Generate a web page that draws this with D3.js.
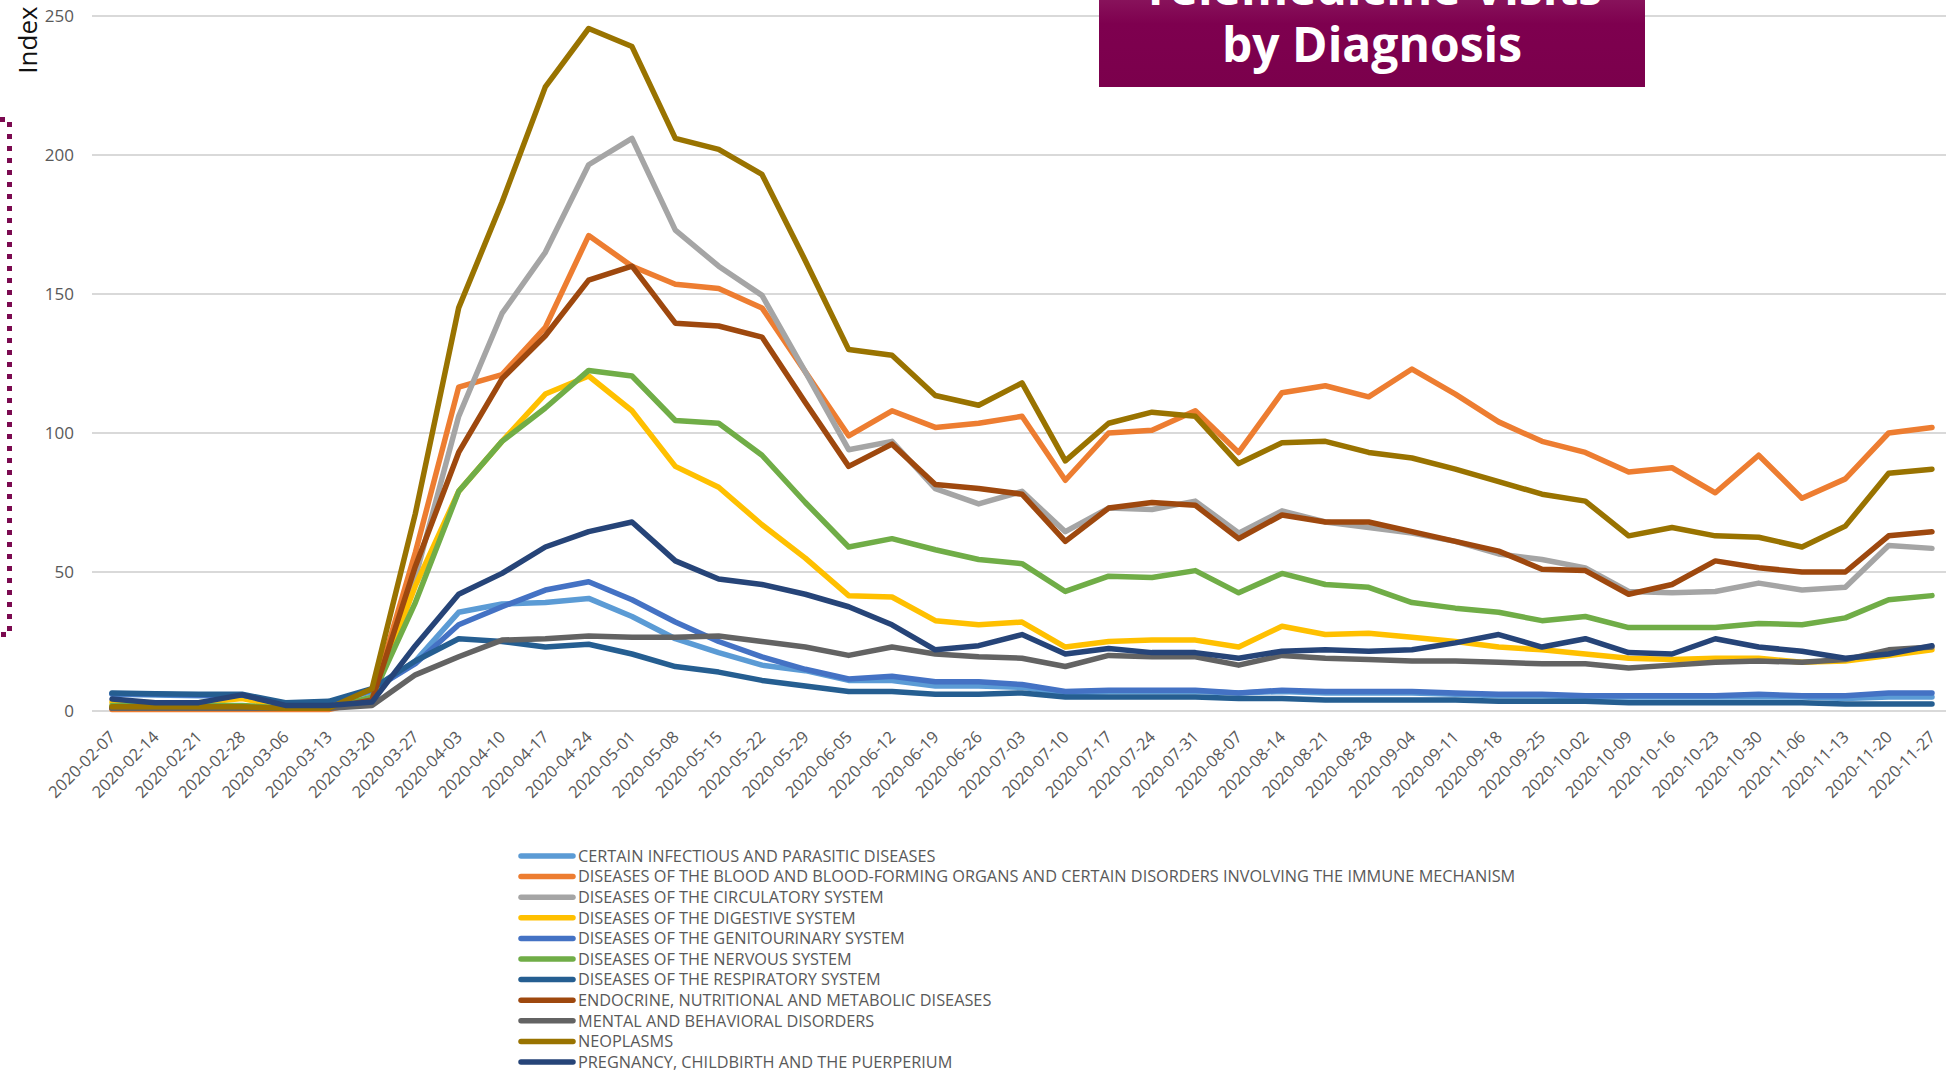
<!DOCTYPE html>
<html>
<head>
<meta charset="utf-8">
<script src="https://cdn.jsdelivr.net/npm/d3@7"></script>
<style>
  body { margin: 0; background: #fff; overflow: hidden; }
  svg { display: block; font-family: "Open Sans", sans-serif; }
</style>
</head>
<body>
<script>
var weeks = ["2020-02-07","2020-02-14","2020-02-21","2020-02-28","2020-03-06","2020-03-13","2020-03-20","2020-03-27",
  "2020-04-03","2020-04-10","2020-04-17","2020-04-24","2020-05-01","2020-05-08","2020-05-15","2020-05-22","2020-05-29",
  "2020-06-05","2020-06-12","2020-06-19","2020-06-26","2020-07-03","2020-07-10","2020-07-17","2020-07-24","2020-07-31",
  "2020-08-07","2020-08-14","2020-08-21","2020-08-28","2020-09-04","2020-09-11","2020-09-18","2020-09-25","2020-10-02",
  "2020-10-09","2020-10-16","2020-10-23","2020-10-30","2020-11-06","2020-11-13","2020-11-20","2020-11-27"];

var yTicks = [0, 50, 100, 150, 200, 250];

var infectious = [6,5.8,5.5,5.5,2.5,3,7,18,35.5,38.5,39,40.5,34,26,21,16.5,14.5,11,11,9,9,8.5,6.5,
  7,7,7,6.5,7,6.5,6.5,6.5,6,5.5,5.5,5,5,5,5,5,5,4.5,5,5];
var blood = [0.5,0.5,0.5,0.5,0.5,0.5,4,57,116.5,121,138,171,160,153.5,152,145,122,99,108,102,103.5,106,83,
  100,101,108,93,114.5,117,113,123,114,104,97,93,86,87.5,78.5,92,76.5,83.5,100,102];
var circulatory = [1,1,1,1,1,1,5,48,106,143,165,196.5,206,173,160,149.5,122,94,97,80,74.5,79,64.5,
  73,72.5,75.5,64,72,68,66,64,61,56.5,54.5,51.5,43,42.5,43,46,43.5,44.5,59.5,58.5];
var digestive = [3.2,3,3,4.5,1.5,1.5,4,45,79,97,114,120.5,108,88,80.5,67,55,41.5,41,32.5,31,32,23,
  25,25.5,25.5,23,30.5,27.5,28,26.5,25,23,22,20.5,19,18.5,19,19,17.5,18,20,22];
var genitourinary = [6.2,6,5.7,5.7,2.5,3,7.5,17,31,37.5,43.5,46.5,40,32,25,19.5,15,11.5,12.5,10.5,10.5,9.5,7,
  7.5,7.5,7.5,6.5,7.5,7,7,7,6.5,6,6,5.5,5.5,5.5,5.5,6,5.5,5.5,6.5,6.5];
var nervous = [2,2,2,2,1,1,5,39,79,97,109,122.5,120.5,104.5,103.5,92,75,59,62,58,54.5,53,43,
  48.5,48,50.5,42.5,49.5,45.5,44.5,39,37,35.5,32.5,34,30,30,30,31.5,31,33.5,40,41.5];
var respiratory = [6.5,6.2,6,6,3,3.5,8,18,26,25,23,24,20.5,16,14,11,9,7,7,6,6,6.5,5,
  5,5,5,4.5,4.5,4,4,4,4,3.5,3.5,3.5,3,3,3,3,3,2.5,2.5,2.5];
var endocrine = [1,1,1,1,1,1,4,52,93,119.5,135,155,160,139.5,138.5,134.5,111,88,96,81.5,80,78,61,
  73,75,74,62,70.5,68,68,64.5,61,57.5,51,50.5,42,45.5,54,51.5,50,50,63,64.5];
var mental = [1,1,1,1,1,1,2,13,19.5,25.5,26,27,26.5,26.5,27,25,23,20,23,20.5,19.5,19,16,
  20,19.5,19.5,16.5,20,19,18.5,18,18,17.5,17,17,15.5,16.5,17.5,18,17.5,18.5,22,23];
var neoplasms = [1.5,1.5,1.5,1.5,1,1,8,71,145,183,224.5,245.5,239,206,202,193,162,130,128,113.5,110,118,90,
  103.5,107.5,106,89,96.5,97,93,91,87,82.5,78,75.5,63,66,63,62.5,59,66.5,85.5,87];
var pregnancy = [4.3,3,3,5.8,2,2,3.2,23.5,42,49.5,59,64.5,68,54,47.5,45.5,42,37.5,31,22,23.5,27.5,20.5,
  22.5,21,21,19,21.5,22,21.5,22,24.5,27.5,23,26,21,20.5,26,23,21.5,19,20.5,23.5];

var seriesNames = ["CERTAIN INFECTIOUS AND PARASITIC DISEASES",
  "DISEASES OF THE BLOOD AND BLOOD-FORMING ORGANS AND CERTAIN DISORDERS INVOLVING THE IMMUNE MECHANISM",
  "DISEASES OF THE CIRCULATORY SYSTEM","DISEASES OF THE DIGESTIVE SYSTEM","DISEASES OF THE GENITOURINARY SYSTEM",
  "DISEASES OF THE NERVOUS SYSTEM","DISEASES OF THE RESPIRATORY SYSTEM","ENDOCRINE, NUTRITIONAL AND METABOLIC DISEASES",
  "MENTAL AND BEHAVIORAL DISORDERS","NEOPLASMS","PREGNANCY, CHILDBIRTH AND THE PUERPERIUM"];
var seriesColors = ["#5b9bd5","#ed7d31","#a5a5a5","#ffc000","#4472c4","#70ad47","#255e91","#9e480e","#636363","#997300","#264478"];

var series = [infectious, blood, circulatory, digestive, genitourinary, nervous, respiratory, endocrine, mental, neoplasms, pregnancy]
  .map(function(vals, i) { return {name: seriesNames[i], color: seriesColors[i], values: vals}; });

var width = 1946, height = 1071;

var svg = d3.select("body").append("svg")
    .attr("width", width)
    .attr("height", height);

var x = d3.scalePoint().domain(weeks).range([112, 1932]);
var y = d3.scaleLinear().domain([0, 250]).range([711, 16]);

// grid
svg.append("g")
  .selectAll("line")
  .data(yTicks)
  .enter().append("line")
    .attr("x1", 92).attr("x2", width)
    .attr("y1", function(d) { return y(d); })
    .attr("y2", function(d) { return y(d); })
    .style("stroke", "#d9d9d9")
    .style("stroke-width", 2);

var yAxis = svg.append("g")
    .attr("transform", "translate(82,0)")
    .call(d3.axisLeft(y).tickValues(yTicks).tickSize(0).tickPadding(8));
yAxis.select(".domain").remove();
yAxis.selectAll("text")
    .style("font-family", "Open Sans")
    .style("font-size", "17px")
    .style("fill", "#595959");

var xAxis = svg.append("g")
    .attr("transform", "translate(0,711)")
    .call(d3.axisBottom(x).tickSize(0));
xAxis.select(".domain").remove();
xAxis.selectAll("text")
    .style("font-family", "Open Sans")
    .style("font-size", "16.5px")
    .style("fill", "#595959")
    .style("text-anchor", "end")
    .attr("dy", null)
    .attr("y", 0)
    .attr("transform", "translate(4,27) rotate(-45)");

svg.append("text")
    .attr("transform", "translate(37,40) rotate(-90)")
    .attr("text-anchor", "middle")
    .style("font-size", "26px")
    .style("fill", "#111")
    .text("Index");

// dotted bracket on the left
svg.append("path")
    .attr("d", "M0,119.5 H9.5 V634.5 H0")
    .style("fill", "none")
    .style("stroke", "#7b0a50")
    .style("stroke-width", 5)
    .style("stroke-dasharray", "5,7");

var line = d3.line()
    .x(function(d, i) { return x(weeks[i]); })
    .y(function(d) { return y(d); });

svg.append("g")
  .selectAll("path")
  .data(series)
  .enter().append("path")
    .attr("d", function(d) { return line(d.values); })
    .style("fill", "none")
    .style("stroke", function(d) { return d.color; })
    .style("stroke-width", 5.5)
    .style("stroke-linejoin", "round")
    .style("stroke-linecap", "round");

// title box
var defs = svg.append("defs");
var grad = defs.append("linearGradient").attr("id", "titleGrad")
    .attr("x1", 0).attr("y1", 0).attr("x2", 0).attr("y2", 1);
grad.append("stop").attr("offset", "0%").attr("stop-color", "#8c1a60");
grad.append("stop").attr("offset", "35%").attr("stop-color", "#7e004f");
grad.append("stop").attr("offset", "100%").attr("stop-color", "#7b004c");

svg.append("rect")
    .attr("x", 1099).attr("y", -10)
    .attr("width", 546).attr("height", 97)
    .style("fill", "url(#titleGrad)");

var title = svg.append("text")
    .attr("text-anchor", "middle")
    .style("font-size", "48px")
    .style("font-weight", "bold")
    .style("fill", "#fff");
title.append("tspan").attr("x", 1372).attr("y", 5).text("Telemedicine Visits");
title.append("tspan").attr("x", 1372).attr("y", 62).text("by Diagnosis");

// legend
var legend = svg.append("g")
  .selectAll("g")
  .data(series)
  .enter().append("g")
    .attr("transform", function(d, i) { return "translate(0," + (856 + i * 20.6) + ")"; });

legend.append("line")
    .attr("x1", 521).attr("x2", 573)
    .style("stroke", function(d) { return d.color; })
    .style("stroke-width", 5.5)
    .style("stroke-linecap", "round");

legend.append("text")
    .attr("x", 578)
    .attr("dy", "0.36em")
    .style("font-size", "16.3px")
    .style("fill", "#595959")
    .text(function(d) { return d.name; });
</script>
</body>
</html>
